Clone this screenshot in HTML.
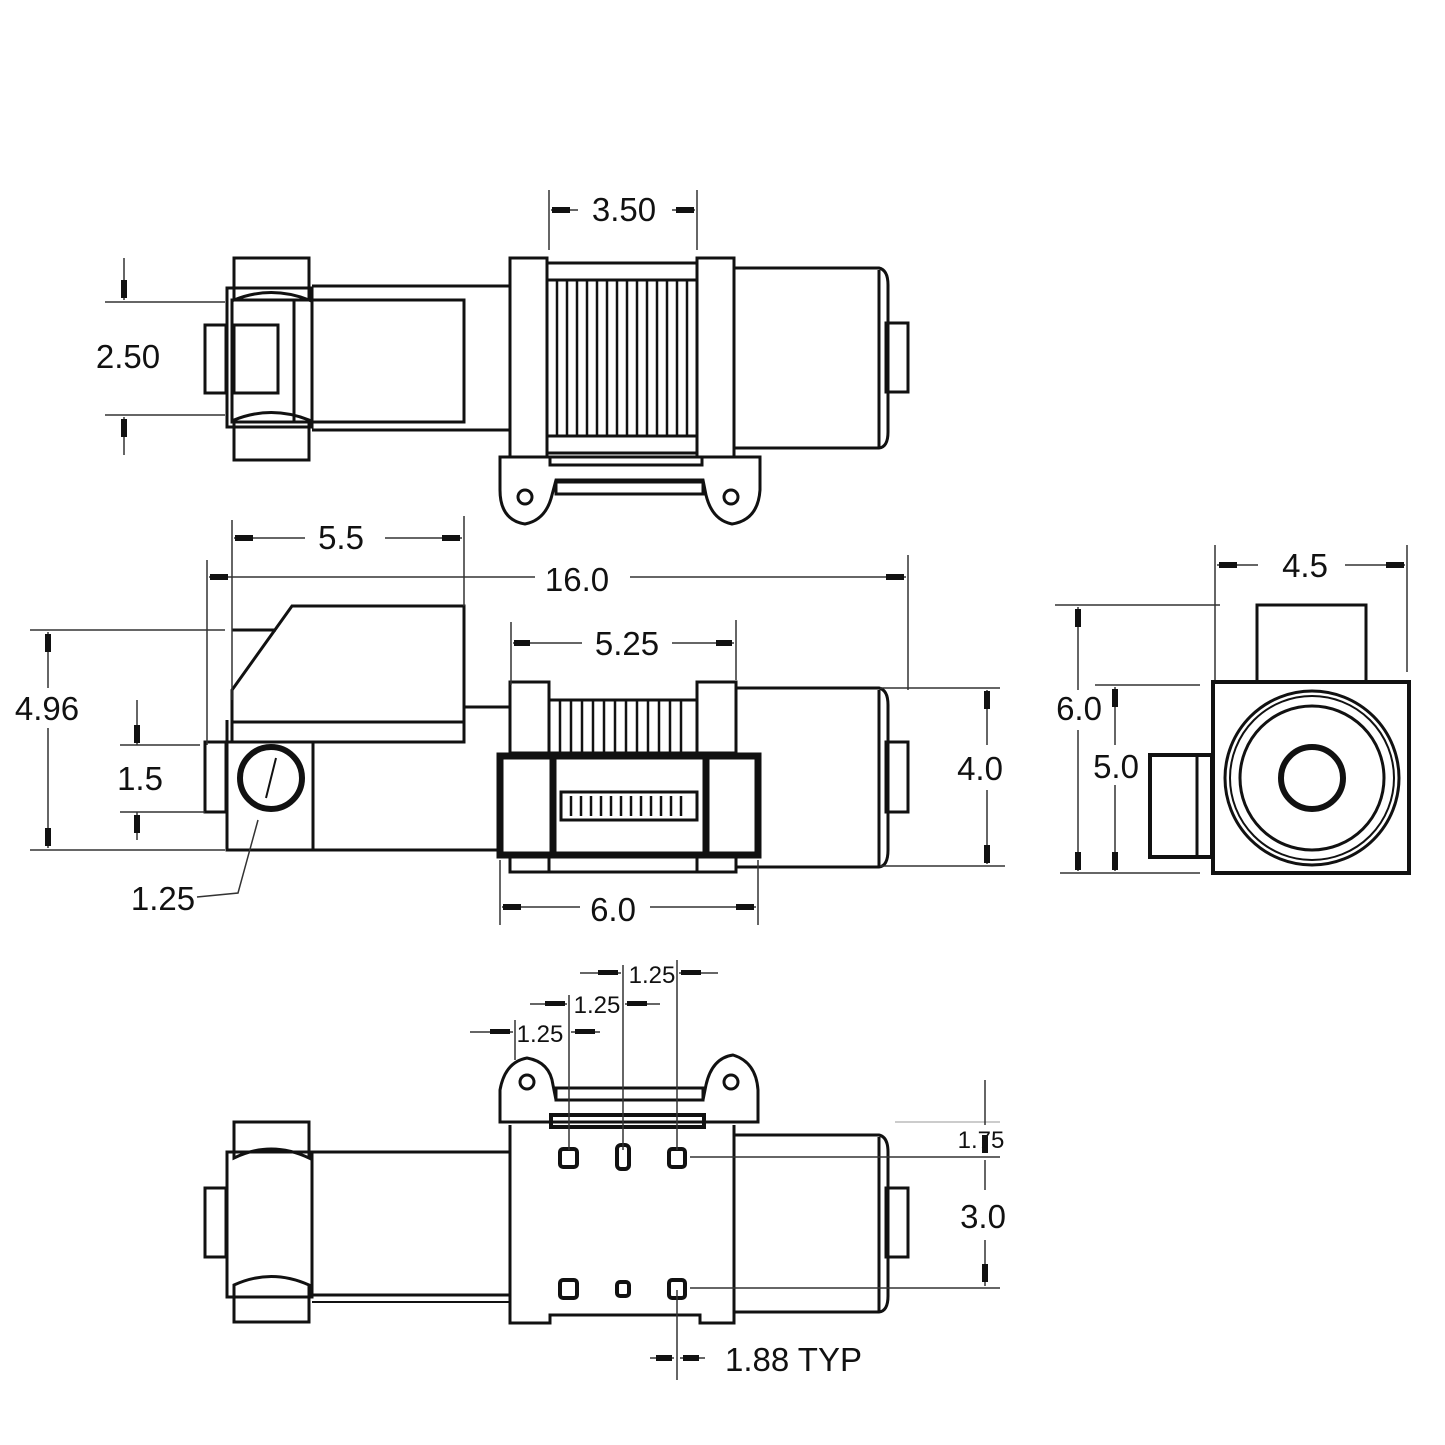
<!DOCTYPE html>
<html><head><meta charset="utf-8"><style>
html,body{margin:0;padding:0;background:#fff}
svg{display:block}
text{font-family:"Liberation Sans",sans-serif;fill:#111}
</style></head><body>
<svg width="1445" height="1445" viewBox="0 0 1445 1445" xmlns="http://www.w3.org/2000/svg">
<g fill="none" stroke="#111" stroke-width="3">
<!-- TOP VIEW -->
<path d="M234 300 V258 H309 V300 Q271 285 234 300 Z"/>
<path d="M234 420 Q271 405 309 420 V460 H234 Z"/>
<rect x="227" y="288" width="85" height="139"/>
<rect x="205" y="325" width="21" height="68"/>
<rect x="234" y="325" width="44" height="68"/>
<rect x="232" y="300" width="232" height="122"/>
<line x1="294" y1="300" x2="294" y2="422"/>
<line x1="312" y1="286" x2="510" y2="286"/>
<line x1="312" y1="430" x2="510" y2="430"/>
<rect x="510" y="258" width="37" height="199"/>
<rect x="697" y="258" width="37" height="199"/>
<rect x="547" y="263" width="150" height="190"/>
<line x1="547" y1="280" x2="697" y2="280"/>
<line x1="547" y1="436" x2="697" y2="436"/>
<g stroke-width="2.5">
<line x1="557" y1="280" x2="557" y2="436"/><line x1="567" y1="280" x2="567" y2="436"/><line x1="577" y1="280" x2="577" y2="436"/><line x1="587" y1="280" x2="587" y2="436"/><line x1="597" y1="280" x2="597" y2="436"/><line x1="607" y1="280" x2="607" y2="436"/><line x1="617" y1="280" x2="617" y2="436"/><line x1="627" y1="280" x2="627" y2="436"/><line x1="637" y1="280" x2="637" y2="436"/><line x1="647" y1="280" x2="647" y2="436"/><line x1="657" y1="280" x2="657" y2="436"/><line x1="667" y1="280" x2="667" y2="436"/><line x1="677" y1="280" x2="677" y2="436"/><line x1="687" y1="280" x2="687" y2="436"/>
</g>
<path d="M734 268 H879 Q888 270 888 285 V432 Q888 447 879 448 H734"/>
<line x1="879" y1="270" x2="879" y2="447"/>
<rect x="886" y="323" width="22" height="69"/>
<path d="M500 457 H760 V490 Q758 520 732 524 Q712 520 706 495 L703 480 H556 L552 495 Q546 520 525 524 Q500 520 500 490 Z"/>
<rect x="550" y="457" width="152" height="8"/>
<rect x="556" y="482" width="147" height="12"/>
<circle cx="525" cy="497" r="7"/><circle cx="731" cy="497" r="7"/>

<!-- MID VIEW -->
<path d="M292 606 H464 V742 H232 V690 Z"/>
<line x1="232" y1="722" x2="464" y2="722"/>
<line x1="232" y1="630" x2="276" y2="630"/>
<line x1="464" y1="707" x2="510" y2="707"/>
<rect x="227" y="742" width="86" height="108"/>
<line x1="313" y1="850" x2="500" y2="850"/>
<line x1="227" y1="720" x2="227" y2="850"/>
<rect x="205" y="742" width="21" height="70"/>
<circle cx="271" cy="778" r="31" stroke-width="6"/>
<line x1="266" y1="798" x2="276" y2="758" stroke-width="2"/>
<rect x="510" y="682" width="39" height="71"/>
<rect x="697" y="682" width="39" height="71"/>
<rect x="549" y="700" width="148" height="53"/>
<g stroke-width="2.5">
<line x1="560" y1="700" x2="560" y2="753"/><line x1="571" y1="700" x2="571" y2="753"/><line x1="582" y1="700" x2="582" y2="753"/><line x1="593" y1="700" x2="593" y2="753"/><line x1="604" y1="700" x2="604" y2="753"/><line x1="615" y1="700" x2="615" y2="753"/><line x1="626" y1="700" x2="626" y2="753"/><line x1="637" y1="700" x2="637" y2="753"/><line x1="648" y1="700" x2="648" y2="753"/><line x1="659" y1="700" x2="659" y2="753"/><line x1="670" y1="700" x2="670" y2="753"/><line x1="681" y1="700" x2="681" y2="753"/>
</g>
<path d="M736 688 H879 Q888 690 888 705 V850 Q888 866 879 867 H736"/>
<line x1="879" y1="690" x2="879" y2="866"/>
<rect x="886" y="742" width="22" height="70"/>
<rect x="510" y="857" width="226" height="15"/>
<line x1="549" y1="857" x2="549" y2="872"/><line x1="697" y1="857" x2="697" y2="872"/>
<rect x="500" y="756" width="258" height="99" stroke-width="7"/>
<line x1="553" y1="756" x2="553" y2="855" stroke-width="7"/>
<line x1="706" y1="756" x2="706" y2="855" stroke-width="7"/>
<rect x="561" y="792" width="136" height="28"/>
<g stroke-width="2.5">
<line x1="571" y1="796" x2="571" y2="816"/><line x1="581" y1="796" x2="581" y2="816"/><line x1="591" y1="796" x2="591" y2="816"/><line x1="601" y1="796" x2="601" y2="816"/><line x1="611" y1="796" x2="611" y2="816"/><line x1="621" y1="796" x2="621" y2="816"/><line x1="631" y1="796" x2="631" y2="816"/><line x1="641" y1="796" x2="641" y2="816"/><line x1="651" y1="796" x2="651" y2="816"/><line x1="661" y1="796" x2="661" y2="816"/><line x1="671" y1="796" x2="671" y2="816"/><line x1="681" y1="796" x2="681" y2="816"/>
</g>

<!-- RIGHT VIEW -->
<rect x="1257" y="605" width="109" height="77"/>
<rect x="1213" y="682" width="196" height="191" stroke-width="4"/>
<circle cx="1312" cy="778" r="87"/>
<circle cx="1312" cy="778" r="82" stroke-width="2"/>
<circle cx="1312" cy="778" r="72"/>
<circle cx="1312" cy="778" r="31" stroke-width="6"/>
<rect x="1150" y="755" width="62" height="102" stroke-width="4"/>
<line x1="1197" y1="755" x2="1197" y2="857"/>

<!-- BOTTOM VIEW -->
<path d="M234 1158 V1122 H309 V1158 Q271 1140 234 1158 Z"/>
<path d="M234 1285 Q271 1268 309 1285 V1322 H234 Z"/>
<rect x="227" y="1152" width="85" height="145"/>
<rect x="205" y="1188" width="21" height="69"/>
<line x1="312" y1="1152" x2="510" y2="1152"/>
<line x1="312" y1="1295" x2="510" y2="1295"/>
<line x1="312" y1="1302" x2="510" y2="1302" stroke-width="2"/>
<path d="M510 1125 V1323 H550 V1315 H700 V1323 H734 V1125"/>
<path d="M500 1122 V1090 Q505 1062 527 1058 Q550 1062 553 1085 L556 1100 H703 L706 1085 Q712 1058 733 1055 Q756 1062 758 1090 V1122 Z"/>
<rect x="556" y="1088" width="147" height="12"/>
<rect x="551" y="1115" width="153" height="12" stroke-width="4"/>
<circle cx="527" cy="1082" r="7"/><circle cx="731" cy="1082" r="7"/>
<g stroke-width="4">
<rect x="560" y="1149" width="17" height="18" rx="3"/><rect x="617" y="1145" width="12" height="24" rx="4"/><rect x="669" y="1149" width="16" height="18" rx="3"/>
<rect x="560" y="1280" width="17" height="18" rx="3"/><rect x="617" y="1282" width="12" height="14" rx="3"/><rect x="669" y="1280" width="16" height="18" rx="3"/>
</g>
<path d="M734 1135 H879 Q888 1137 888 1152 V1296 Q888 1311 879 1312 H734"/>
<line x1="879" y1="1137" x2="879" y2="1311"/>
<rect x="886" y="1188" width="22" height="69"/>
</g>

<!-- DIMENSIONS -->
<g fill="none" stroke="#333" stroke-width="1.5">
<line x1="549" y1="190" x2="549" y2="250"/><line x1="697" y1="190" x2="697" y2="250"/>
<line x1="551" y1="210" x2="578" y2="210"/><line x1="672" y1="210" x2="695" y2="210"/>
<line x1="105" y1="302" x2="225" y2="302"/><line x1="105" y1="415" x2="225" y2="415"/>
<line x1="124" y1="258" x2="124" y2="300"/><line x1="124" y1="417" x2="124" y2="455"/>
<line x1="232" y1="520" x2="232" y2="700"/><line x1="464" y1="516" x2="464" y2="606"/>
<line x1="234" y1="538" x2="305" y2="538"/><line x1="385" y1="538" x2="462" y2="538"/>
<line x1="207" y1="560" x2="207" y2="745"/><line x1="908" y1="555" x2="908" y2="690"/>
<line x1="209" y1="577" x2="535" y2="577"/><line x1="630" y1="577" x2="906" y2="577"/>
<line x1="511" y1="622" x2="511" y2="685"/><line x1="736" y1="620" x2="736" y2="680"/>
<line x1="513" y1="643" x2="582" y2="643"/><line x1="672" y1="643" x2="734" y2="643"/>
<line x1="30" y1="630" x2="225" y2="630"/><line x1="30" y1="850" x2="225" y2="850"/>
<line x1="48" y1="632" x2="48" y2="688"/><line x1="48" y1="728" x2="48" y2="848"/>
<line x1="120" y1="745" x2="200" y2="745"/><line x1="120" y1="812" x2="205" y2="812"/>
<line x1="137" y1="700" x2="137" y2="745"/><line x1="137" y1="812" x2="137" y2="840"/>
<path d="M197 897 L238 893 L258 820"/>
<line x1="880" y1="688" x2="1000" y2="688"/><line x1="880" y1="866" x2="1005" y2="866"/>
<line x1="987" y1="690" x2="987" y2="745"/><line x1="987" y1="790" x2="987" y2="864"/>
<line x1="500" y1="860" x2="500" y2="925"/><line x1="758" y1="860" x2="758" y2="925"/>
<line x1="502" y1="907" x2="580" y2="907"/><line x1="650" y1="907" x2="756" y2="907"/>
<line x1="1055" y1="605" x2="1220" y2="605"/><line x1="1060" y1="873" x2="1200" y2="873"/>
<line x1="1078" y1="607" x2="1078" y2="690"/><line x1="1078" y1="730" x2="1078" y2="871"/>
<line x1="1095" y1="685" x2="1200" y2="685"/>
<line x1="1115" y1="687" x2="1115" y2="745"/><line x1="1115" y1="785" x2="1115" y2="871"/>
<line x1="1215" y1="545" x2="1215" y2="680"/><line x1="1407" y1="545" x2="1407" y2="672"/>
<line x1="1217" y1="565" x2="1258" y2="565"/><line x1="1345" y1="565" x2="1405" y2="565"/>
<line x1="515" y1="1020" x2="515" y2="1060"/><line x1="569" y1="995" x2="569" y2="1150"/>
<line x1="623" y1="965" x2="623" y2="1150"/><line x1="677" y1="960" x2="677" y2="1150"/>
<line x1="470" y1="1032" x2="513" y2="1032"/><line x1="571" y1="1032" x2="600" y2="1032"/>
<line x1="530" y1="1004" x2="567" y2="1004"/><line x1="625" y1="1004" x2="660" y2="1004"/>
<line x1="580" y1="973" x2="621" y2="973"/><line x1="679" y1="973" x2="718" y2="973"/>
<line x1="690" y1="1157" x2="1000" y2="1157"/><line x1="690" y1="1288" x2="1000" y2="1288"/>
<line x1="895" y1="1122" x2="1000" y2="1122" stroke="#bbb"/>
<line x1="985" y1="1080" x2="985" y2="1125"/><line x1="985" y1="1160" x2="985" y2="1190"/><line x1="985" y1="1240" x2="985" y2="1286"/>
<line x1="677" y1="1290" x2="677" y2="1380"/>
<line x1="650" y1="1358" x2="674" y2="1358"/><line x1="680" y1="1358" x2="705" y2="1358"/>
</g>
<g fill="#111">
<rect x="552" y="207" width="18" height="6"/><rect x="676" y="207" width="18" height="6"/>
<rect x="121" y="280" width="6" height="18"/><rect x="121" y="419" width="6" height="18"/>
<rect x="235" y="535" width="18" height="6"/><rect x="442" y="535" width="18" height="6"/>
<rect x="210" y="574" width="18" height="6"/><rect x="886" y="574" width="18" height="6"/>
<rect x="514" y="640" width="16" height="6"/><rect x="716" y="640" width="16" height="6"/>
<rect x="45" y="634" width="6" height="18"/><rect x="45" y="828" width="6" height="18"/>
<rect x="134" y="725" width="6" height="18"/><rect x="134" y="815" width="6" height="18"/>
<rect x="984" y="691" width="6" height="18"/><rect x="984" y="845" width="6" height="18"/>
<rect x="503" y="904" width="18" height="6"/><rect x="736" y="904" width="18" height="6"/>
<rect x="1075" y="609" width="6" height="18"/><rect x="1075" y="852" width="6" height="18"/>
<rect x="1112" y="689" width="6" height="18"/><rect x="1112" y="852" width="6" height="18"/>
<rect x="1219" y="562" width="18" height="6"/><rect x="1386" y="562" width="18" height="6"/>
<rect x="490" y="1029" width="20" height="5"/><rect x="575" y="1029" width="20" height="5"/>
<rect x="545" y="1001" width="20" height="5"/><rect x="627" y="1001" width="20" height="5"/>
<rect x="598" y="970" width="20" height="5"/><rect x="681" y="970" width="20" height="5"/>
<rect x="982" y="1135" width="6" height="18"/><rect x="982" y="1264" width="6" height="18"/>
<rect x="656" y="1355" width="16" height="6"/><rect x="683" y="1355" width="16" height="6"/>
</g>
<g font-size="33">
<text x="624" y="221" text-anchor="middle">3.50</text>
<text x="128" y="368" text-anchor="middle">2.50</text>
<text x="341" y="549" text-anchor="middle">5.5</text>
<text x="577" y="591" text-anchor="middle">16.0</text>
<text x="627" y="655" text-anchor="middle">5.25</text>
<text x="47" y="720" text-anchor="middle">4.96</text>
<text x="140" y="790" text-anchor="middle">1.5</text>
<text x="163" y="910" text-anchor="middle">1.25</text>
<text x="980" y="780" text-anchor="middle">4.0</text>
<text x="613" y="921" text-anchor="middle">6.0</text>
<text x="1305" y="577" text-anchor="middle">4.5</text>
<text x="1079" y="720" text-anchor="middle">6.0</text>
<text x="1116" y="778" text-anchor="middle">5.0</text>
<text x="983" y="1228" text-anchor="middle">3.0</text>
<text x="725" y="1371">1.88 TYP</text>
</g>
<g font-size="24">
<text x="652" y="983" text-anchor="middle">1.25</text>
<text x="597" y="1013" text-anchor="middle">1.25</text>
<text x="540" y="1042" text-anchor="middle">1.25</text>
<text x="981" y="1148" text-anchor="middle">1.75</text>
</g>
</svg>
</body></html>
